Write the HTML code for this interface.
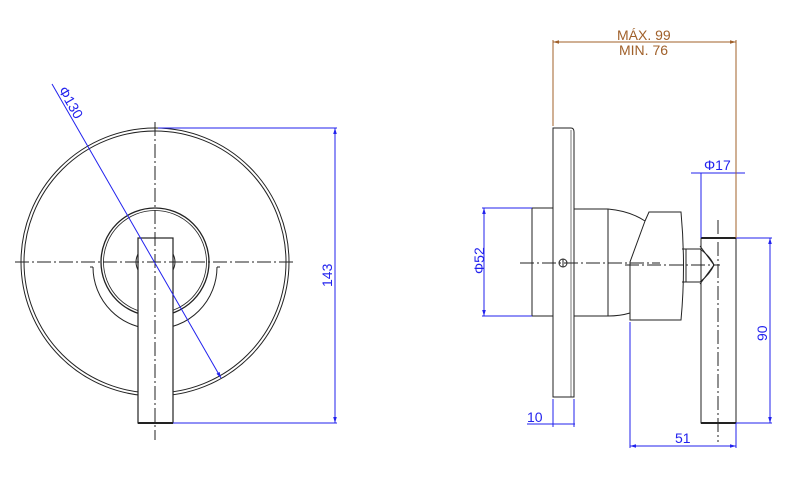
<!DOCTYPE html>
<html><head><meta charset="utf-8"><style>
html,body{margin:0;padding:0;background:#fff;}
svg{display:block;}
text{font-family:"Liberation Sans",sans-serif;font-size:14px;}
</style></head><body>
<svg width="800" height="500" viewBox="0 0 800 500" xmlns="http://www.w3.org/2000/svg">
<defs>
<marker id="ab" viewBox="0 0 10 10" refX="10" refY="5" markerWidth="6" markerHeight="6" orient="auto-start-reverse"><path d="M0,2 L10,5 L0,8 z" fill="#2222ee"/></marker>
<marker id="ar" viewBox="0 0 10 10" refX="10" refY="5" markerWidth="6" markerHeight="6" orient="auto-start-reverse"><path d="M0,2 L10,5 L0,8 z" fill="#a0602a"/></marker>
</defs>
<g fill="none" stroke="#222" stroke-width="1">
<!-- front view -->
<circle cx="155" cy="262" r="134"/>
<circle cx="155" cy="262" r="131"/>
<circle cx="155" cy="262" r="54" stroke-width="1.3"/>
<circle cx="155" cy="262" r="51.5" stroke-width="0.8"/>
<path d="M93,267 A62,62 0 0 0 217,267"/>
<path d="M90,267 L93,267 M217,267 L220,267"/>
<rect x="138" y="238" width="35" height="185" fill="#fff" stroke-width="1.2"/>
<path d="M138,254 Q134,262 138,270 M173,254 Q177,262 173,270"/>
<line x1="138" y1="423" x2="173" y2="423" stroke-width="2"/>
</g>
<!-- side view -->
<g fill="none" stroke="#222" stroke-width="1">
<path d="M553,128 L571,128 Q574,128 574,132 L574,397 L553,397 Z"/>
<line x1="571" y1="130" x2="571" y2="397" stroke-width="0.6"/>
<rect x="532" y="208" width="21" height="108"/>
<path d="M574,209 L608,209 Q630,211 645,221"/>
<path d="M574,316 L608,316 Q620,316 630,313"/>
<line x1="608" y1="209" x2="608" y2="316"/>
<path d="M645,221 L649,212 L681,212 Q686,266 681,320 L630,320 L630,262 L645,221"/>
<path d="M682,249 L700,249 M682,282 L700,282 M686,249 L686,282"/>
<rect x="701" y="238" width="35" height="185"/>
<path d="M700,246 L714,265 L700,284"/>
<path d="M700,249 Q710,256 714,265 Q710,274 700,282"/>
<line x1="701" y1="238" x2="736" y2="238" stroke-width="2"/>
<line x1="701" y1="423" x2="736" y2="423" stroke-width="2"/>
<circle cx="563" cy="263" r="4"/>
<line x1="563" y1="259" x2="563" y2="267"/>
</g>
<g stroke="#222" stroke-width="1" stroke-dasharray="14,3,2,3" fill="none">
<line x1="15" y1="262" x2="296" y2="262"/>
<line x1="155" y1="122" x2="155" y2="440"/>
<line x1="520" y1="263" x2="660" y2="263"/>
<line x1="625" y1="265" x2="720" y2="265"/>
<line x1="718" y1="220" x2="718" y2="442"/>
</g>
<!-- blue dims -->
<g stroke="#2222ee" stroke-width="1" fill="none">
<line x1="52" y1="84" x2="221" y2="378" marker-end="url(#ab)"/>
<line x1="158" y1="128" x2="337" y2="128"/>
<line x1="173" y1="423" x2="337" y2="423"/>
<line x1="335" y1="128" x2="335" y2="423" marker-start="url(#ab)" marker-end="url(#ab)"/>
<line x1="482" y1="208" x2="532" y2="208"/>
<line x1="482" y1="316" x2="532" y2="316"/>
<line x1="484" y1="208" x2="484" y2="316" marker-start="url(#ab)" marker-end="url(#ab)"/>
<line x1="691" y1="173" x2="745" y2="173"/>
<line x1="701" y1="173" x2="701" y2="238"/>
<line x1="736" y1="173" x2="736" y2="238"/>
<line x1="736" y1="238" x2="772" y2="238"/>
<line x1="736" y1="423" x2="772" y2="423"/>
<line x1="770" y1="238" x2="770" y2="423" marker-start="url(#ab)" marker-end="url(#ab)"/>
<line x1="630" y1="322" x2="630" y2="448"/>
<line x1="736" y1="423" x2="736" y2="448"/>
<line x1="630" y1="446" x2="736" y2="446" marker-start="url(#ab)" marker-end="url(#ab)"/>
<line x1="553" y1="399" x2="553" y2="427"/>
<line x1="574" y1="399" x2="574" y2="427"/>
<line x1="527" y1="424" x2="575" y2="424"/>
</g>
<g fill="#2222ee">
<text transform="translate(58,90) rotate(60)">Φ130</text>
<text transform="translate(332,287) rotate(-90)">143</text>
<text transform="translate(484,274) rotate(-90)">Φ52</text>
<text x="704" y="170">Φ17</text>
<text transform="translate(767,341) rotate(-90)">90</text>
<text x="675" y="443">51</text>
<text x="527" y="422">10</text>
</g>
<!-- brown dims -->
<g stroke="#a0602a" stroke-width="1" fill="none">
<line x1="553" y1="40" x2="553" y2="126"/>
<line x1="736" y1="40" x2="736" y2="238"/>
<line x1="553" y1="42" x2="736" y2="42" marker-start="url(#ar)" marker-end="url(#ar)"/>
</g>
<g fill="#a0602a">
<text x="617" y="40">MÁX. 99</text>
<text x="619" y="55">MIN. 76</text>
</g>
</svg>
</body></html>
